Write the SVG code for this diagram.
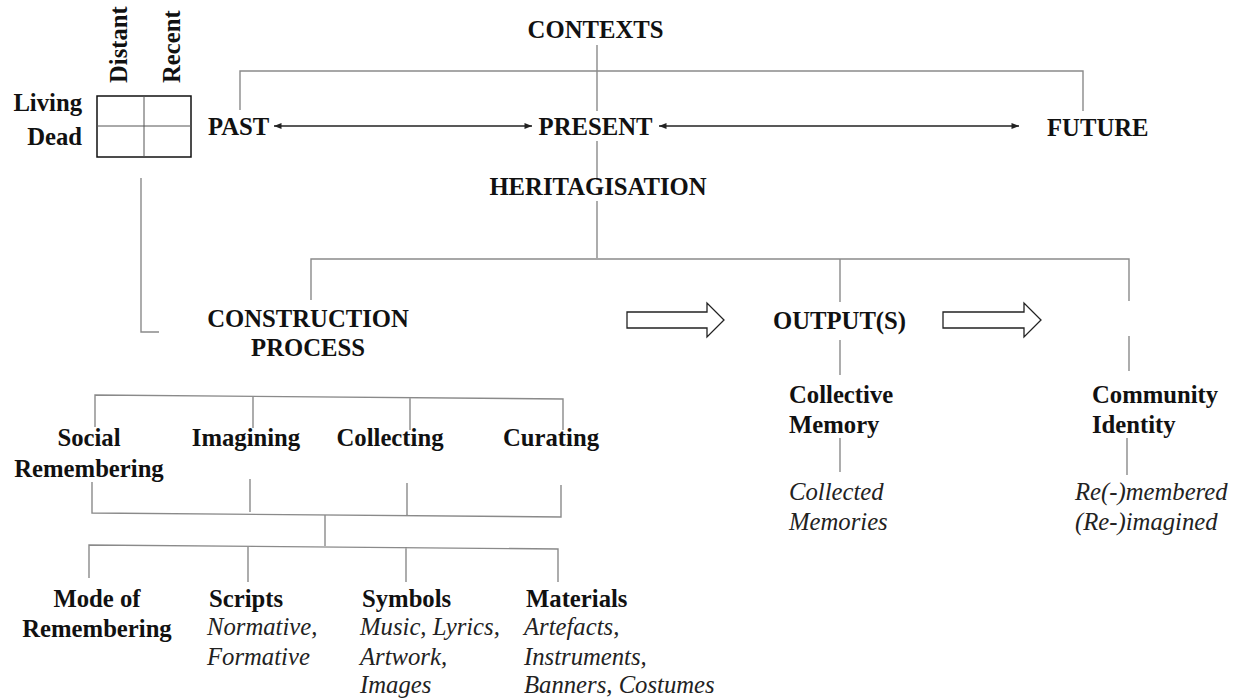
<svg xmlns="http://www.w3.org/2000/svg" width="1236" height="700" viewBox="0 0 1236 700">
<style>
text{font-family:'Liberation Serif','DejaVu Serif',serif;font-size:24.7px;fill:#111}
.b{font-weight:bold}
.i{font-style:italic;fill:#222}
.m{text-anchor:middle}
.e{text-anchor:end}
.c{fill:none;stroke:#8a8a8a;stroke-width:1.4}
.a{fill:none;stroke:#222;stroke-width:1.4}
.h{fill:#fff;stroke:#222;stroke-width:1.3}
</style>
<defs>
<marker id="ah" viewBox="0 0 10 8" refX="10" refY="4" markerWidth="8" markerHeight="6" markerUnits="userSpaceOnUse" orient="auto-start-reverse">
<path d="M0,0 L10,4 L0,8 z" fill="#222"/>
</marker>
</defs>
<rect width="1236" height="700" fill="#fff"/>

<g id="connectors">
<path class="c" d="M597,45 V111 M597,141 V180 M597,201 V258"/>
<path class="c" d="M240,110 V71 H1083 V111"/>
<path class="c" d="M311,300 V259 H1129 V301 M840,259 V302"/>
<path class="c" d="M840,340 V375 M1129,336 V371"/>
<path class="c" d="M840,438 V472 M1127,438 V475"/>
<path class="c" d="M141,178 V332 H159"/>
<line class="a" x1="274" y1="126" x2="532" y2="126" marker-start="url(#ah)" marker-end="url(#ah)"/>
<line class="a" x1="659" y1="126" x2="1019" y2="126" marker-start="url(#ah)" marker-end="url(#ah)"/>
<path class="h" d="M627,312 H707 V303 L724,320 L707,337 V328 H627 Z"/>
<path class="h" d="M943,312 H1024 V303 L1041,320 L1024,337 V328 H943 Z"/>
<path class="c" d="M95,427 V395 L563,399 V430 M253,397 V428 M410,398 V430"/>
<path class="c" d="M92,482 V513 L561,517 V485 M250,479 V512 M407,483 V515"/>
<path class="c" d="M325,515 V546"/>
<path class="c" d="M89,578 V545 L558,549 V582 M248,546 V582 M406,547 V582"/>
</g>

<g id="grid">
<rect x="97" y="96" width="94" height="61" fill="none" stroke="#111" stroke-width="1.5"/>
<path d="M144,96 V157 M97,126 H191" stroke="#555" stroke-width="1" fill="none"/>
<text class="b" transform="translate(127,83) rotate(-90)">Distant</text>
<text class="b" transform="translate(180,83) rotate(-90)">Recent</text>
<text class="b e" transform="translate(82,111)">Living</text>
<text class="b e" transform="translate(82,145)">Dead</text>
</g>

<g id="contexts"><text class="b m" transform="translate(595.5,38)">CONTEXTS</text></g>
<g id="past"><text class="b" transform="translate(208,135)">PAST</text></g>
<g id="present"><text class="b m" x="595.5" y="135">PRESENT</text></g>
<g id="future"><text class="b" x="1047" y="136">FUTURE</text></g>
<g id="heritagisation"><text class="b m" x="598" y="195">HERITAGISATION</text></g>

<g id="construction">
<text class="b m" x="308" y="327">CONSTRUCTION</text>
<text class="b m" x="308" y="356">PROCESS</text>
</g>

<g id="outputs"><text class="b m" x="839.5" y="329">OUTPUT(S)</text></g>

<g id="collective-memory">
<text class="b" x="789" y="403">Collective</text>
<text class="b" x="789" y="433">Memory</text>
<text class="i" transform="translate(789,500)">Collected</text>
<text class="i" transform="translate(789,530)">Memories</text>
</g>

<g id="community-identity">
<text class="b" x="1092" y="403">Community</text>
<text class="b" x="1092" y="433">Identity</text>
<text class="i" x="1075" y="500">Re(-)membered</text>
<text class="i" x="1075" y="530">(Re-)imagined</text>
</g>

<g id="social-remembering">
<text class="b m" x="89" y="446">Social</text>
<text class="b m" x="89" y="477">Remembering</text>
</g>
<g id="imagining"><text class="b m" x="246" y="446">Imagining</text></g>
<g id="collecting"><text class="b m" x="390" y="446">Collecting</text></g>
<g id="curating"><text class="b m" x="551" y="446">Curating</text></g>

<g id="mode-of-remembering">
<text class="b m" x="97" y="607">Mode of</text>
<text class="b m" x="97" y="637">Remembering</text>
</g>
<g id="scripts">
<text class="b" x="209" y="607">Scripts</text>
<text class="i" x="207" y="635">Normative,</text>
<text class="i" x="207" y="665">Formative</text>
</g>
<g id="symbols">
<text class="b" x="362" y="607">Symbols</text>
<text class="i" x="360" y="635">Music, Lyrics,</text>
<text class="i" x="360" y="665">Artwork,</text>
<text class="i" x="360" y="693">Images</text>
</g>
<g id="materials">
<text class="b" x="526" y="607">Materials</text>
<text class="i" x="524" y="635">Artefacts,</text>
<text class="i" x="524" y="665">Instruments,</text>
<text class="i" x="524" y="693">Banners, Costumes</text>
</g>
</svg>
